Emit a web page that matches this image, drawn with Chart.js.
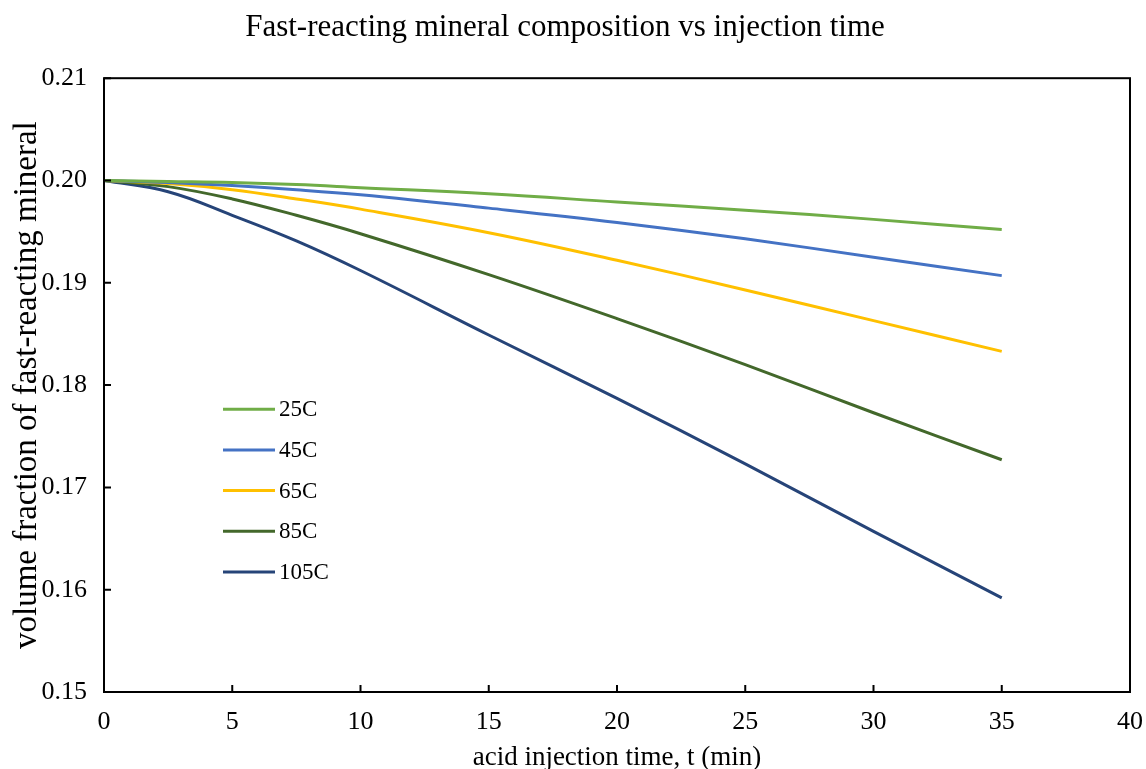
<!DOCTYPE html>
<html>
<head>
<meta charset="utf-8">
<script src="https://cdn.jsdelivr.net/npm/chart.js@4/dist/chart.umd.min.js"></script>
<style>
  html, body { margin: 0; padding: 0; background: #fff; }
  #wrap { width: 1146px; height: 769px; }
</style>
</head>
<body>
<div id="wrap"><canvas id="chart" width="1146" height="769"></canvas></div>
<script>
// values
const times = [0, 2.5, 5, 7.5, 10, 15, 20, 25, 30, 35];
const temp25 = [0.2000, 0.1999, 0.1998, 0.1996, 0.1993, 0.1987, 0.1979, 0.1971, 0.1962, 0.1952];
const temp45 = [0.2000, 0.1998, 0.1995, 0.1991, 0.1986, 0.1973, 0.1959, 0.1943, 0.1925, 0.1907];
const temp65 = [0.2000, 0.1997, 0.1991, 0.1982, 0.1972, 0.1949, 0.1922, 0.1893, 0.1863, 0.1833];
const temp85 = [0.2000, 0.1994, 0.1982, 0.1966, 0.1948, 0.1908, 0.1865, 0.1820, 0.1773, 0.1727];
const temp105 = [0.2000, 0.1989, 0.1966, 0.1941, 0.1912, 0.1849, 0.1787, 0.1723, 0.1657, 0.1592];

const seriesNames = ["25C", "45C", "65C", "85C", "105C"];
const seriesValues = [temp25, temp45, temp65, temp85, temp105];
const seriesColors = ["#70AD47", "#4472C4", "#FFC000", "#43682B", "#264478"];

const FONT = "'Liberation Serif', 'Times New Roman', serif";

function toPoints(values) {
  return times.map((t, i) => ({ x: t, y: values[i] }));
}

const datasets = seriesNames.map((name, i) => ({
  label: name,
  data: toPoints(seriesValues[i]),
  borderColor: seriesColors[i],
  backgroundColor: seriesColors[i],
  borderWidth: 3,
  pointRadius: 0,
  fill: false,
  tension: 0.4
}));

// frame round the plot area + inside tick marks
const framePlugin = {
  id: "frame",
  afterDatasetsDraw(chart) {
    const { ctx, chartArea: a, scales } = chart;
    ctx.save();
    ctx.strokeStyle = "#000";
    ctx.lineWidth = 2;
    ctx.strokeRect(a.left, a.top, a.right - a.left, a.bottom - a.top);
    ctx.beginPath();
    scales.x.ticks.forEach(t => {
      const px = scales.x.getPixelForValue(t.value);
      ctx.moveTo(px, a.bottom);
      ctx.lineTo(px, a.bottom - 7);
    });
    scales.y.ticks.forEach(t => {
      const py = scales.y.getPixelForValue(t.value);
      ctx.moveTo(a.left, py);
      ctx.lineTo(a.left + 7, py);
    });
    ctx.stroke();
    ctx.restore();
  }
};

// legend drawn inside the plot area
const legendPlugin = {
  id: "innerLegend",
  afterDatasetsDraw(chart) {
    const { ctx, chartArea: a } = chart;
    const x0 = a.left + 119;
    const y0 = a.top + 331;
    const rowGap = 40.7;
    ctx.save();
    ctx.font = "23px " + FONT;
    ctx.textBaseline = "middle";
    ctx.fillStyle = "#000";
    chart.data.datasets.forEach((ds, i) => {
      const y = y0 + i * rowGap;
      ctx.strokeStyle = ds.borderColor;
      ctx.lineWidth = 3;
      ctx.beginPath();
      ctx.moveTo(x0, y);
      ctx.lineTo(x0 + 52, y);
      ctx.stroke();
      ctx.fillText(ds.label, x0 + 56, y + 1);
    });
    ctx.restore();
  }
};

new Chart(document.getElementById("chart"), {
  type: "line",
  data: { datasets },
  options: {
    responsive: false,
    animation: false,
    layout: { padding: { left: 0, right: 16, top: 0, bottom: 0 } },
    plugins: {
      legend: { display: false },
      tooltip: { enabled: false },
      title: {
        display: true,
        text: "Fast-reacting mineral composition vs injection time",
        color: "#000",
        font: { family: FONT, size: 31, weight: "normal", lineHeight: 1.2 },
        padding: { top: 9, bottom: 32 }
      }
    },
    scales: {
      x: {
        type: "linear",
        min: 0,
        max: 40,
        ticks: {
          stepSize: 5,
          color: "#000",
          padding: 2,
          font: { family: FONT, size: 26, lineHeight: 2.15 },
          maxRotation: 0
        },
        grid: { display: false, drawTicks: false },
        border: { display: false },
        title: {
          display: true,
          text: "acid injection time, t (min)",
          color: "#000",
          font: { family: FONT, size: 27, lineHeight: 0.8 },
          padding: { top: 0, bottom: 0 }
        },
        afterFit(scale) { scale.height = 77; }
      },
      y: {
        type: "linear",
        min: 0.15,
        max: 0.21,
        ticks: {
          stepSize: 0.01,
          color: "#000",
          padding: 17,
          font: { family: FONT, size: 26 },
          callback: v => v.toFixed(2)
        },
        grid: { display: false, drawTicks: false },
        border: { display: false },
        title: {
          display: true,
          text: "volume fraction of fast-reacting mineral",
          color: "#000",
          font: { family: FONT, size: 33, lineHeight: 1 },
          padding: { top: 11, bottom: 0 }
        },
        afterFit(scale) { scale.width = 104; }
      }
    }
  },
  plugins: [framePlugin, legendPlugin]
});
</script>
</body>
</html>
